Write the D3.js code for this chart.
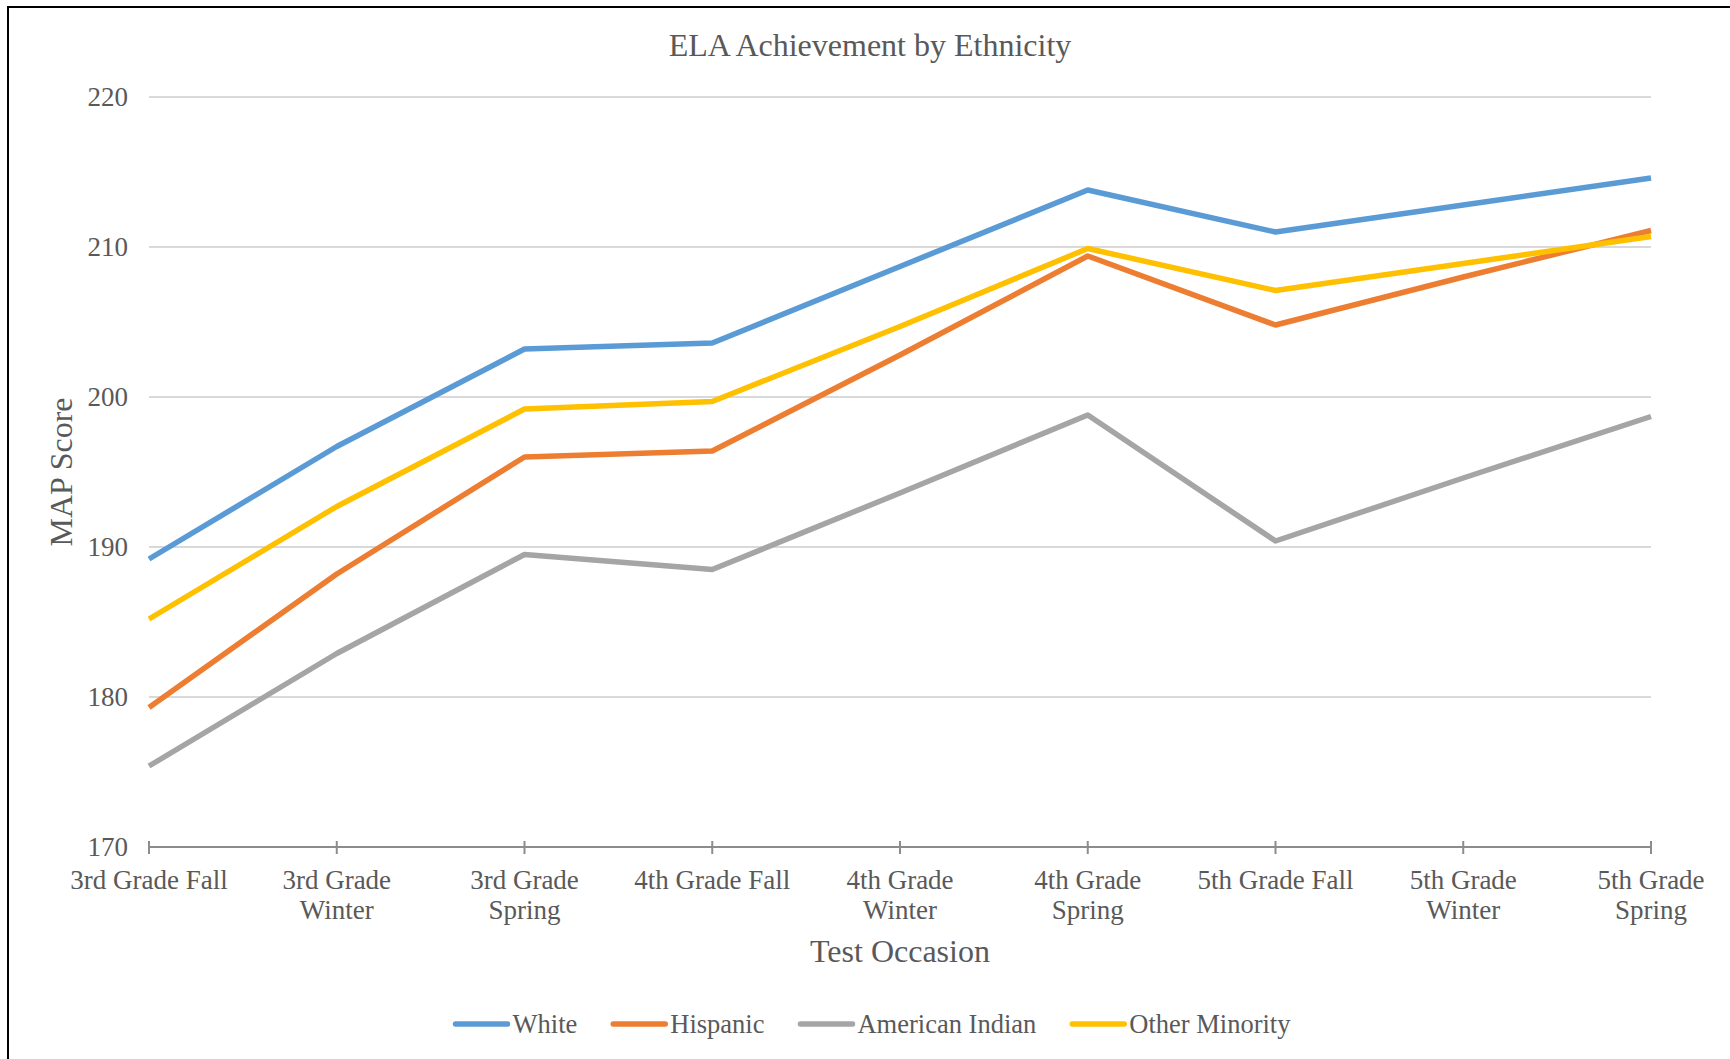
<!DOCTYPE html>
<head>
  <meta charset="utf-8">
  <script src="https://d3js.org/d3.v7.min.js"></script>
  <style>
    body { margin: 0; background: #fff; }
    svg { display: block; }
    text { font-family: "Liberation Serif", "Times New Roman", serif; fill: #595959; }
  </style>
</head>
<body>
  <svg></svg>
  <script>
    const width = 1730;
    const height = 1059;

    // categories along the x axis (two-line labels split on \n)
    const occasions = [
      '3rd Grade Fall', '3rd Grade\nWinter', '3rd Grade\nSpring',
      '4th Grade Fall', '4th Grade\nWinter', '4th Grade\nSpring',
      '5th Grade Fall', '5th Grade\nWinter', '5th Grade\nSpring'
    ];
    const seriesNames = ['White', 'Hispanic', 'American Indian', 'Other Minority'];
    const seriesColors = ['#5B9BD5', '#ED7D31', '#A5A5A5', '#FFC000'];

    // MAP scores
    const white = [189.2, 196.7, 203.2, 203.6, 208.7, 213.8, 211.0, 212.8, 214.6];
    const hispanic = [179.3, 188.2, 196.0, 196.4, 202.8, 209.4, 204.8, 208.0, 211.1];
    const americanIndian = [175.4, 182.9, 189.5, 188.5, 193.6, 198.8, 190.4, 194.6, 198.7];
    const otherMinority = [185.2, 192.7, 199.2, 199.7, 204.7, 209.9, 207.1, 208.9, 210.7];
    const yTicks = [170, 180, 190, 200, 210, 220];

    const seriesValues = [white, hispanic, americanIndian, otherMinority];

    const svg = d3.select('svg')
      .attr('width', width)
      .attr('height', height);

    // chart frame (only left and top edges show in the picture)
    svg.append('path')
      .attr('d', `M8,${height} L8,7 L${width},7`)
      .attr('fill', 'none')
      .attr('stroke', '#000')
      .attr('stroke-width', 2);

    const x = d3.scalePoint()
      .domain(d3.range(occasions.length))
      .range([149, 1651]);
    const y = d3.scaleLinear()
      .domain([170, 220])
      .range([847, 97]);

    // gridlines
    svg.append('g')
      .selectAll('line')
      .data(yTicks.filter(d => d !== 170))
      .join('line')
      .attr('x1', 149)
      .attr('x2', 1651)
      .attr('y1', d => y(d))
      .attr('y2', d => y(d))
      .attr('stroke', '#D9D9D9')
      .attr('stroke-width', 2);

    // y tick labels
    svg.append('g')
      .selectAll('text')
      .data(yTicks)
      .join('text')
      .attr('x', 128)
      .attr('y', d => y(d) + 9)
      .attr('text-anchor', 'end')
      .attr('font-size', 27)
      .text(d => d);

    // x axis line + ticks
    svg.append('line')
      .attr('x1', 149).attr('x2', 1651)
      .attr('y1', y(170)).attr('y2', y(170))
      .attr('stroke', '#8C8C8C')
      .attr('stroke-width', 2);
    svg.append('g')
      .selectAll('line')
      .data(d3.range(occasions.length))
      .join('line')
      .attr('x1', d => x(d)).attr('x2', d => x(d))
      .attr('y1', y(170) - 6).attr('y2', y(170) + 7)
      .attr('stroke', '#8C8C8C')
      .attr('stroke-width', 2);

    // x tick labels
    const xl = svg.append('g')
      .selectAll('text')
      .data(occasions)
      .join('text')
      .attr('text-anchor', 'middle')
      .attr('font-size', 27)
      .attr('transform', (d, i) => `translate(${x(i)},889)`);
    xl.selectAll('tspan')
      .data(d => d.split('\n'))
      .join('tspan')
      .attr('x', 0)
      .attr('dy', (d, i) => i ? 30 : 0)
      .text(d => d);

    // lines
    const line = d3.line()
      .x((d, i) => x(i))
      .y(d => y(d));
    svg.append('g')
      .selectAll('path')
      .data(seriesValues)
      .join('path')
      .attr('d', line)
      .attr('fill', 'none')
      .attr('stroke', (d, i) => seriesColors[i])
      .attr('stroke-width', 5.5)
      .attr('stroke-linejoin', 'round');

    // titles
    svg.append('text')
      .attr('x', 870).attr('y', 56)
      .attr('text-anchor', 'middle')
      .attr('font-size', 32)
      .text('ELA Achievement by Ethnicity');
    svg.append('text')
      .attr('x', 900).attr('y', 962)
      .attr('text-anchor', 'middle')
      .attr('font-size', 32)
      .text('Test Occasion');
    svg.append('text')
      .attr('transform', 'translate(72,472)rotate(-90)')
      .attr('text-anchor', 'middle')
      .attr('font-size', 32)
      .text('MAP Score');

    // legend, centred under the chart
    const legend = svg.append('g');
    const items = legend.selectAll('g')
      .data(seriesNames)
      .join('g');
    items.append('line')
      .attr('x1', 0).attr('x2', 52)
      .attr('y1', 0).attr('y2', 0)
      .attr('stroke', (d, i) => seriesColors[i])
      .attr('stroke-width', 5.5)
      .attr('stroke-linecap', 'round');
    items.append('text')
      .attr('x', 57)
      .attr('y', 9)
      .attr('font-size', 26.5)
      .text(d => d);
    let offset = 0;
    items.each(function() {
      const g = d3.select(this);
      g.attr('transform', `translate(${offset},0)`);
      offset += 57 + g.select('text').node().getComputedTextLength() + 36;
    });
    offset -= 36;
    legend.attr('transform', `translate(${873 - offset / 2},1024)`);
  </script>
</body>
